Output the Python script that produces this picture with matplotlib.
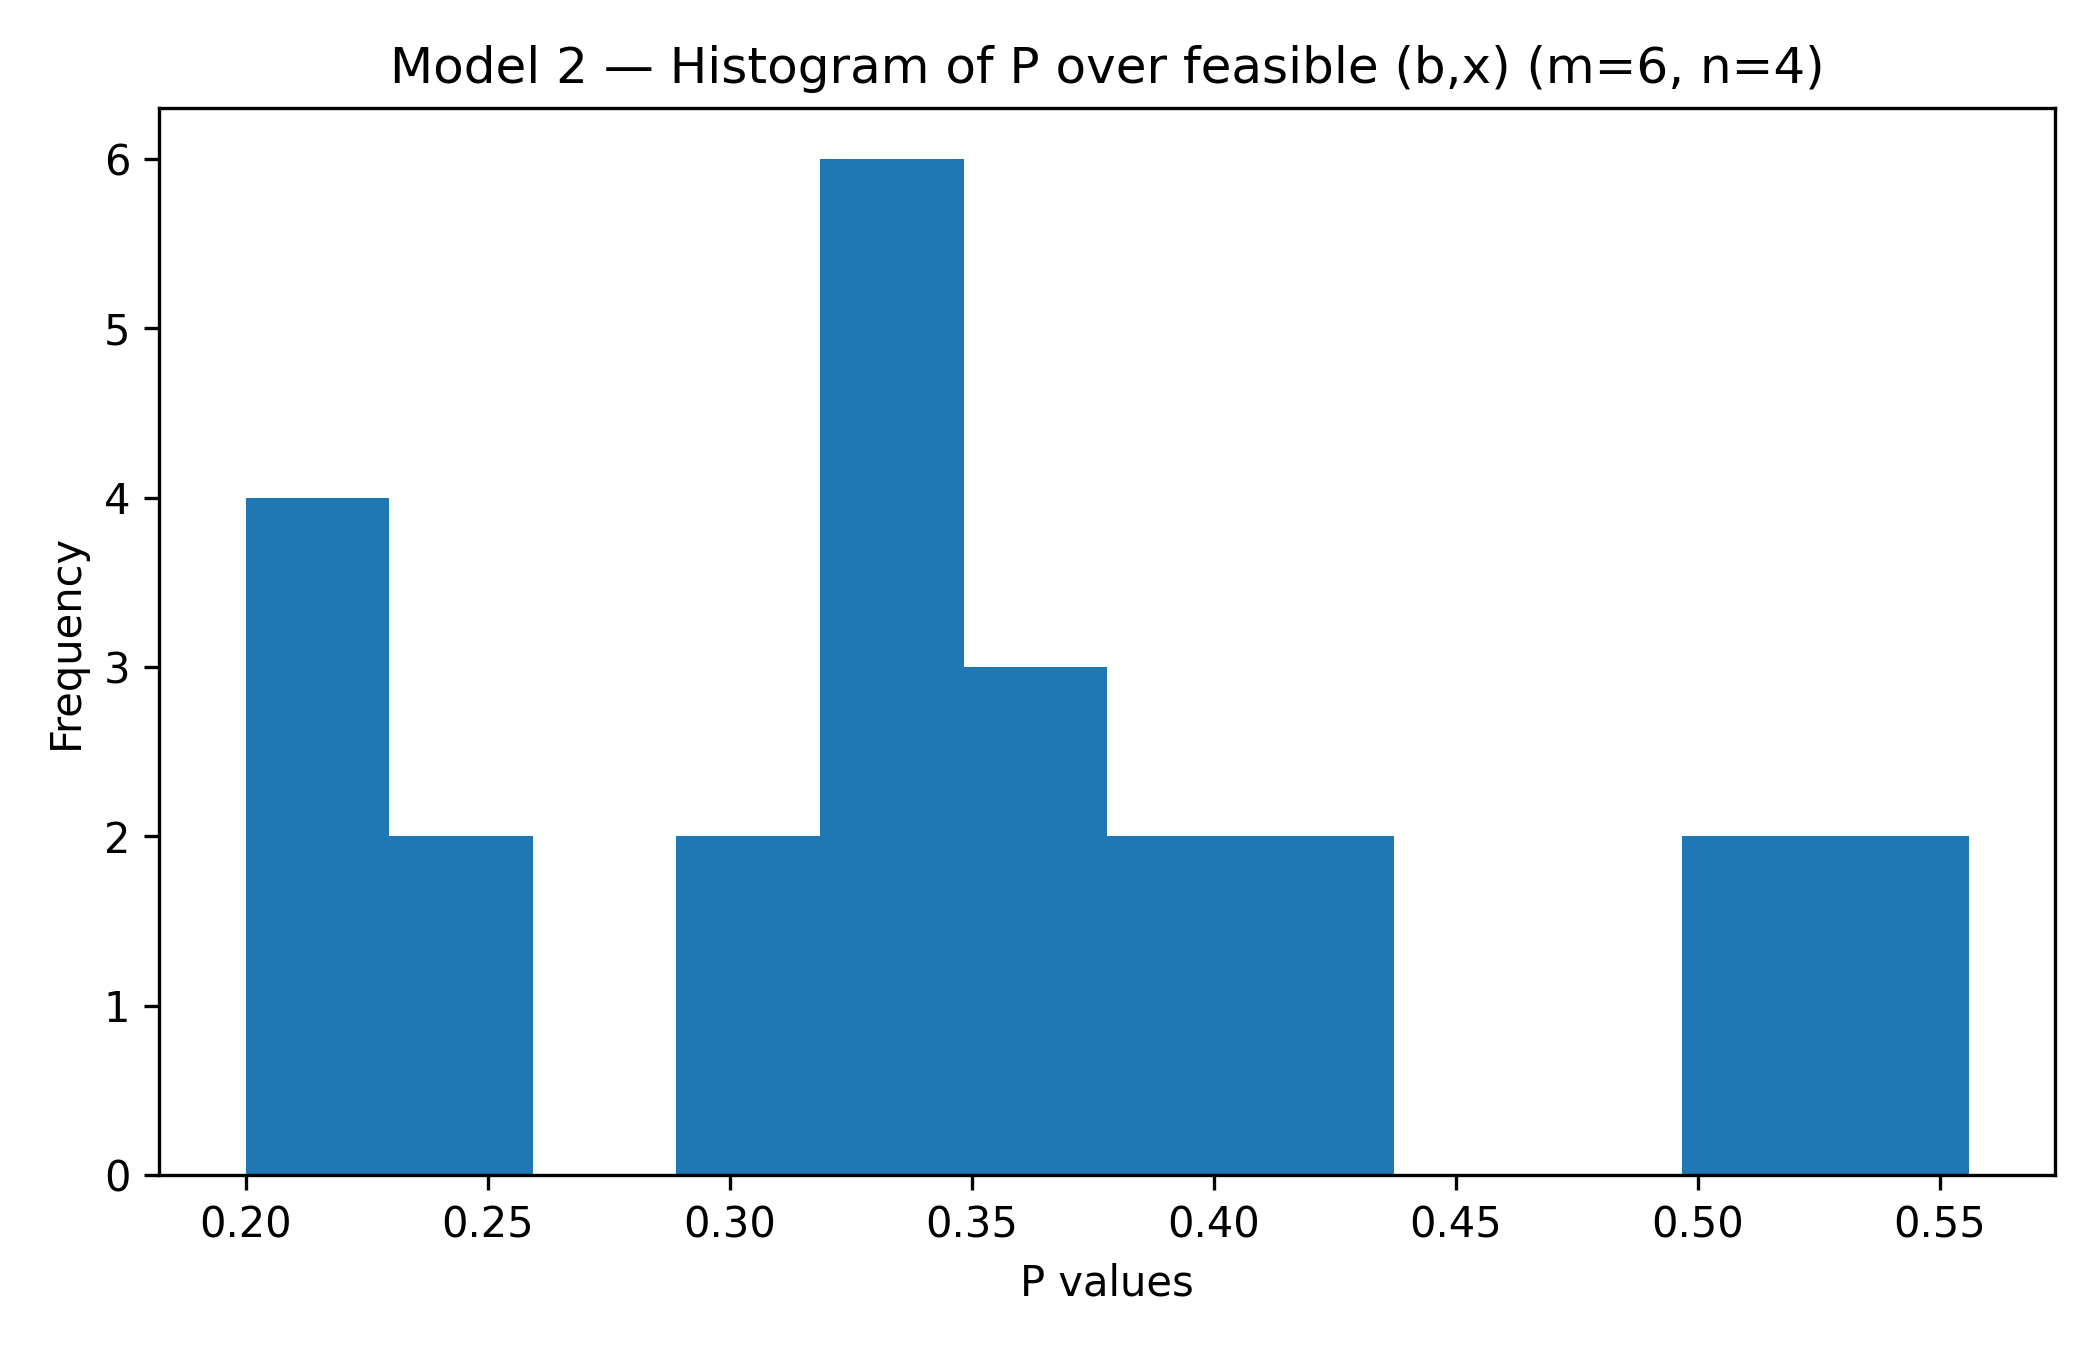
import matplotlib.pyplot as plt
import numpy as np

# Histogram bin counts (12 bins)
counts = [4, 2, 0, 2, 6, 3, 2, 2, 0, 0, 2, 2]
p_min = 0.2
p_max = 0.556

edges = np.linspace(p_min, p_max, len(counts) + 1)
centers = (edges[:-1] + edges[1:]) / 2

fig, ax = plt.subplots(figsize=(7, 4.5), dpi=300)
ax.hist(centers, bins=edges, weights=counts, color='#1f77b4')
ax.set_title('Model 2 \u2014 Histogram of P over feasible (b,x) (m=6, n=4)')
ax.set_xlabel('P values')
ax.set_ylabel('Frequency')
fig.tight_layout()
fig.savefig('out.png', dpi=300)
